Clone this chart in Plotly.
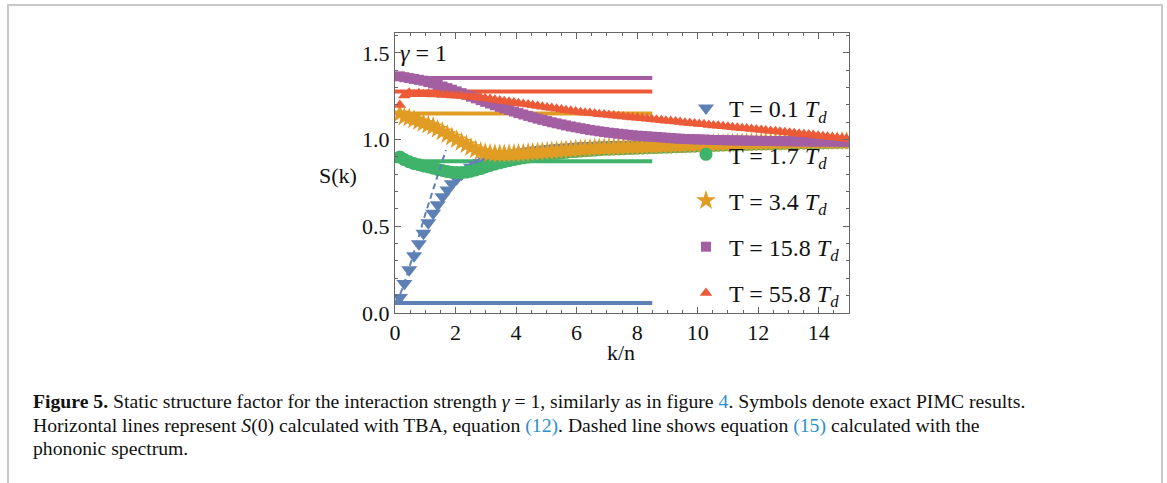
import plotly.graph_objects as go

# ---- data -------------------------------------------------------------
k_n = [0.16, 0.31, 0.47, 0.63, 0.79, 0.94, 1.10, 1.26, 1.41, 1.57,
       1.73, 1.88, 2.04, 2.20, 2.36, 2.51, 2.67, 2.83, 2.98, 3.14,
       3.30, 3.46, 3.61, 3.77, 3.93, 4.08, 4.24, 4.40, 4.55, 4.71,
       4.87, 5.03, 5.18, 5.34, 5.50, 5.65, 5.81, 5.97, 6.13, 6.28,
       6.44, 6.60, 6.75, 6.91, 7.07, 7.23, 7.38, 7.54, 7.70, 7.85,
       8.01, 8.17, 8.33, 8.48, 8.64, 8.80, 8.95, 9.11, 9.27, 9.42,
       9.58, 9.74, 9.90, 10.05, 10.21, 10.37, 10.52, 10.68, 10.84, 11.00,
       11.15, 11.31, 11.47, 11.62, 11.78, 11.94, 12.10, 12.25, 12.41, 12.57,
       12.72, 12.88, 13.04, 13.19, 13.35, 13.51, 13.67, 13.82, 13.98, 14.14,
       14.29, 14.45, 14.61, 14.77, 14.92, 15.08]

s_T01 = [0.09, 0.17, 0.25, 0.33, 0.40, 0.46, 0.52, 0.575, 0.625, 0.67,
         0.71, 0.745, 0.775, 0.80, 0.82, 0.84, 0.855, 0.868, 0.878, 0.887,
         0.895, 0.902, 0.908, 0.914, 0.919, 0.924, 0.928, 0.932, 0.936, 0.94,
         0.943, 0.946, 0.949, 0.952, 0.954, 0.956, 0.958, 0.96, 0.962, 0.964,
         0.965, 0.966, 0.967, 0.968, 0.969, 0.97, 0.971, 0.972, 0.972, 0.973,
         0.974, 0.975, 0.975, 0.976, 0.976, 0.977, 0.977, 0.978, 0.978, 0.979,
         0.979, 0.980, 0.980, 0.981, 0.981, 0.982, 0.982, 0.983, 0.983, 0.984,
         0.984, 0.984, 0.985, 0.985, 0.985, 0.986, 0.986, 0.986, 0.987, 0.987,
         0.987, 0.987, 0.988, 0.988, 0.988, 0.988, 0.989, 0.989, 0.989, 0.989,
         0.989, 0.990, 0.990, 0.990, 0.990, 0.990]

s_T17 = [0.90, 0.885, 0.872, 0.862, 0.855, 0.848, 0.842, 0.835, 0.828, 0.822,
         0.816, 0.812, 0.81, 0.81, 0.813, 0.818, 0.825, 0.833, 0.842, 0.851,
         0.859, 0.866, 0.873, 0.879, 0.885, 0.89, 0.895, 0.90, 0.904, 0.908,
         0.912, 0.915, 0.918, 0.921, 0.924, 0.927, 0.93, 0.932, 0.934, 0.936,
         0.938, 0.94, 0.942, 0.944, 0.945, 0.946, 0.947, 0.948, 0.949, 0.95,
         0.951, 0.952, 0.953, 0.954, 0.955, 0.956, 0.957, 0.958, 0.959, 0.960,
         0.961, 0.962, 0.963, 0.964, 0.965, 0.966, 0.967, 0.968, 0.969, 0.970,
         0.971, 0.972, 0.973, 0.973, 0.974, 0.975, 0.976, 0.976, 0.977, 0.978,
         0.978, 0.979, 0.980, 0.980, 0.981, 0.981, 0.982, 0.982, 0.983, 0.983,
         0.984, 0.984, 0.984, 0.985, 0.985, 0.985]

s_T34 = [1.15, 1.13, 1.125, 1.115, 1.105, 1.095, 1.085, 1.075, 1.06, 1.045,
         1.03, 1.015, 1.0, 0.985, 0.97, 0.955, 0.942, 0.932, 0.925, 0.92,
         0.918, 0.917, 0.917, 0.918, 0.919, 0.92, 0.922, 0.924, 0.926, 0.928,
         0.93, 0.932, 0.934, 0.936, 0.938, 0.94, 0.942, 0.944, 0.946, 0.948,
         0.95, 0.951, 0.952, 0.953, 0.954, 0.955, 0.956, 0.957, 0.958, 0.959,
         0.960, 0.961, 0.962, 0.963, 0.964, 0.965, 0.966, 0.967, 0.968, 0.969,
         0.970, 0.971, 0.972, 0.973, 0.974, 0.975, 0.976, 0.977, 0.977, 0.978,
         0.979, 0.980, 0.980, 0.981, 0.982, 0.982, 0.983, 0.983, 0.984, 0.984,
         0.985, 0.985, 0.986, 0.986, 0.987, 0.987, 0.987, 0.988, 0.988, 0.988,
         0.989, 0.989, 0.989, 0.990, 0.990, 0.990]

s_T158 = [1.365, 1.36, 1.355, 1.35, 1.345, 1.34, 1.332, 1.324, 1.315, 1.306,
          1.297, 1.288, 1.278, 1.268, 1.258, 1.248, 1.238, 1.228, 1.218, 1.208,
          1.198, 1.189, 1.18, 1.171, 1.162, 1.153, 1.145, 1.137, 1.129, 1.121,
          1.114, 1.107, 1.1, 1.094, 1.088, 1.082, 1.076, 1.071, 1.066, 1.061,
          1.056, 1.052, 1.048, 1.044, 1.04, 1.037, 1.034, 1.031, 1.028, 1.025,
          1.023, 1.021, 1.019, 1.017, 1.015, 1.013, 1.011, 1.009, 1.007, 1.005,
          1.004, 1.003, 1.002, 1.001, 1.0, 0.999, 0.998, 0.998, 0.997, 0.996,
          0.996, 0.995, 0.995, 0.994, 0.994, 0.993, 0.993, 0.992, 0.992, 0.992,
          0.991, 0.991, 0.991, 0.990, 0.990, 0.990, 0.990, 0.989, 0.989, 0.989,
          0.989, 0.988, 0.988, 0.988, 0.988, 0.988]

s_T558 = [1.20, 1.255, 1.27, 1.262, 1.268, 1.262, 1.265, 1.26, 1.262, 1.258,
          1.257, 1.255, 1.253, 1.251, 1.249, 1.246, 1.244, 1.241, 1.238, 1.234,
          1.230, 1.226, 1.222, 1.218, 1.214, 1.210, 1.206, 1.202, 1.198, 1.194,
          1.190, 1.186, 1.182, 1.178, 1.174, 1.170, 1.166, 1.162, 1.158, 1.155,
          1.153, 1.150, 1.147, 1.145, 1.142, 1.139, 1.136, 1.134, 1.131, 1.128,
          1.126, 1.123, 1.120, 1.117, 1.115, 1.112, 1.109, 1.107, 1.104, 1.101,
          1.098, 1.096, 1.093, 1.090, 1.088, 1.085, 1.082, 1.080, 1.077, 1.074,
          1.072, 1.069, 1.066, 1.064, 1.061, 1.058, 1.056, 1.053, 1.050, 1.048,
          1.045, 1.042, 1.040, 1.037, 1.034, 1.031, 1.029, 1.026, 1.023, 1.020,
          1.017, 1.014, 1.011, 1.008, 1.005, 1.002]

# S(0) from TBA, drawn as horizontal segments
tba_k = [0.0, 8.5]
tba_s0 = [0.058, 0.875, 1.15, 1.355, 1.277]

# phononic-spectrum prediction for the lowest temperature
k_phonon = [0.0, 0.2, 0.4, 0.6, 0.8, 1.0, 1.2, 1.4, 1.6, 1.68]
s_phonon = [0.06, 0.12, 0.22, 0.33, 0.45, 0.57, 0.68, 0.79, 0.90, 0.94]

series = [s_T01, s_T17, s_T34, s_T158, s_T558]
labels = ["T = 0.1 <i>T<sub>d</sub></i>", "T = 1.7 <i>T<sub>d</sub></i>",
          "T = 3.4 <i>T<sub>d</sub></i>", "T = 15.8 <i>T<sub>d</sub></i>",
          "T = 55.8 <i>T<sub>d</sub></i>"]
colors = ["#5e81b5", "#3fb36a", "#e19c24", "#a35fa2", "#ec5a38"]
symbols = ["triangle-down", "circle", "star", "square", "triangle-up"]
sizes = [14, 13, 15, 10, 11]

# ---- layout geometry ---------------------------------------------------
FW, FH = 1167, 483
L, R, T, B = 395, 849, 33, 313
PW, PH = R - L, B - T


def xp(px):
    return (px - L) / PW


def yp(py):
    return (B - py) / PH


SERIF = "Liberation Serif"
fig = go.Figure()

for lvl, c in zip(tba_s0, colors):
    fig.add_trace(go.Scatter(x=tba_k, y=[lvl, lvl], mode="lines",
                             line=dict(color=c, width=4), showlegend=False,
                             hoverinfo="skip"))

for i, (s, lab, c, sym, sz) in enumerate(zip(series, labels, colors, symbols, sizes)):
    fig.add_trace(go.Scatter(x=k_n, y=s, mode="markers", name=lab,
                             legendgroup=f"g{i}",
                             marker=dict(symbol=sym, size=sz, color=c,
                                         line=dict(width=0))))

fig.add_trace(go.Scatter(x=k_phonon, y=s_phonon, mode="lines",
                         line=dict(color=colors[0], width=2, dash="6px,4px"),
                         showlegend=False))

axis_common = dict(showline=True, linecolor="#666666", linewidth=1,
                   mirror="allticks", ticks="inside", ticklen=6,
                   tickcolor="#666666", tickwidth=1, showgrid=False,
                   zeroline=False,
                   tickfont=dict(family=SERIF, size=22, color="#111111"))

fig.update_xaxes(range=[0, 15], tick0=0, dtick=2,
                 minor=dict(dtick=0.5, ticks="inside", ticklen=3,
                            tickcolor="#666666", showgrid=False),
                 **axis_common)
fig.update_yaxes(range=[0, 1.615], tick0=0, dtick=0.5, tickformat=".1f",
                 minor=dict(dtick=0.1, ticks="inside", ticklen=3,
                            tickcolor="#666666", showgrid=False),
                 **axis_common)

link = "#2b8fcd"
cap_font = dict(family=SERIF, size=19.7, color="#111111")
caption = [
    ("<b>Figure 5.</b> Static structure factor for the interaction strength "
     "<i>γ</i> = 1, similarly as in figure "
     f"<span style='color:{link}'>4</span>. Symbols denote exact PIMC results.", 401),
    ("Horizontal lines represent <i>S</i>(0) calculated with TBA, equation "
     f"<span style='color:{link}'>(12)</span>. Dashed line shows equation "
     f"<span style='color:{link}'>(15)</span> calculated with the", 425),
    ("phononic spectrum.", 448),
]
annotations = [
    dict(text="<i>γ</i> = 1", x=xp(398), y=yp(53), xanchor="left",
         yanchor="middle", font=dict(family=SERIF, size=24, color="#111111")),
    dict(text="S(k)", x=xp(338), y=yp(175), xanchor="center",
         yanchor="middle", font=dict(family=SERIF, size=22, color="#111111")),
    dict(text="k/n", x=xp(621), y=yp(352), xanchor="center",
         yanchor="middle", font=dict(family=SERIF, size=22, color="#111111")),
]
for txt, ypix in caption:
    annotations.append(dict(text=txt, x=xp(31), y=yp(ypix), xanchor="left",
                            yanchor="middle", align="left", font=cap_font))
for a in annotations:
    a.update(xref="paper", yref="paper", showarrow=False)

fig.update_layout(
    width=FW, height=FH,
    margin=dict(l=L, r=FW - R, t=T, b=FH - B, pad=0),
    paper_bgcolor="white", plot_bgcolor="white",
    annotations=annotations,
    legend=dict(x=xp(683), y=yp(86), xanchor="left", yanchor="top",
                bgcolor="rgba(0,0,0,0)", tracegroupgap=12, itemwidth=36,
                font=dict(family=SERIF, size=24, color="#111111")),
    shapes=[dict(type="rect", xref="paper", yref="paper",
                 x0=xp(8), x1=xp(1162), y0=yp(5), y1=yp(500),
                 line=dict(color="#c8c8c8", width=2), layer="below")],
)

fig.write_html("out.html")
